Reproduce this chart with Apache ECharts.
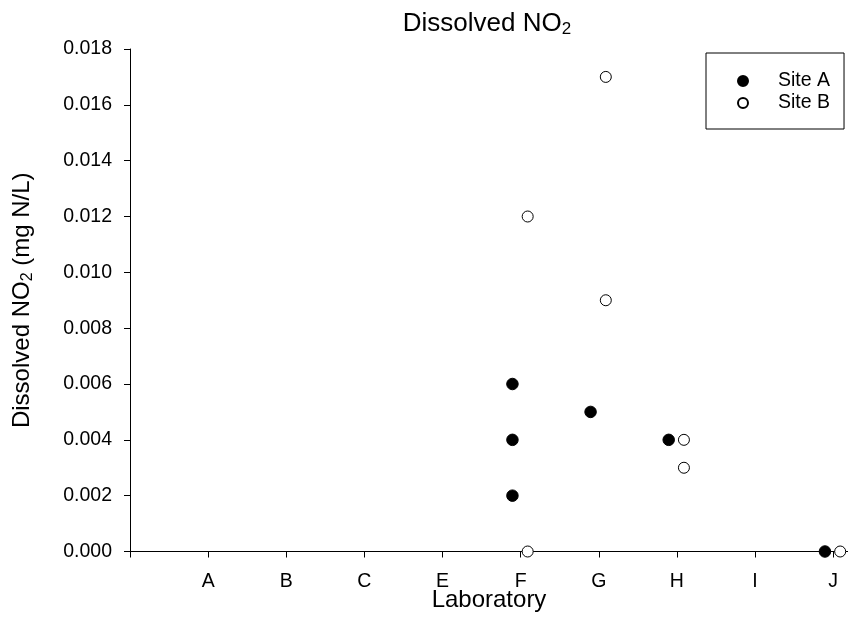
<!DOCTYPE html>
<html>
<head>
<meta charset="utf-8">
<script src="https://cdn.jsdelivr.net/npm/echarts@6/dist/echarts.min.js"></script>
<style>html,body{margin:0;padding:0;background:#fff}#c{width:848px;height:638px}</style>
</head>
<body>
<div id="c"></div>
<script>
const categories = ['A', 'B', 'C', 'E', 'F', 'G', 'H', 'I', 'J'];
const siteALab = ['F', 'F', 'F', 'G', 'H', 'J'];
const siteAVal = [0.006, 0.004, 0.002, 0.005, 0.004, 0.000];
const siteBLab = ['F', 'F', 'G', 'G', 'H', 'H', 'J'];
const siteBVal = [0.012, 0.000, 0.017, 0.009, 0.004, 0.003, 0.000];
const yTicks = { min: 0, max: 0.018, step: 0.002 };

const FONT = '"Liberation Sans", Arial, sans-serif';
const offA = -0.105, offB = 0.09;
function pts(labs, vals, off) {
  return labs.map((l, i) => [categories.indexOf(l) + 1 + off, vals[i]]);
}

const chart = echarts.init(document.getElementById('c'), null, { renderer: 'canvas' });
chart.setOption({
  animation: false,
  backgroundColor: '#fff',
  title: {
    text: '{a|Dissolved NO}{s|2}',
    left: 482, top: 5, textAlign: 'center',
    textStyle: {
      fontWeight: 'normal',
      rich: {
        a: { fontFamily: FONT, fontSize: 26, fontWeight: 'normal', lineHeight: 28, color: '#000', verticalAlign: 'middle' },
        s: { fontFamily: FONT, fontSize: 17, fontWeight: 'normal', lineHeight: 14, color: '#000', verticalAlign: 'bottom' }
      }
    }
  },
  legend: {
    orient: 'vertical',
    left: 706, top: 53,
    padding: [17, 14, 15, 31],
    itemWidth: 10, itemHeight: 10, itemGap: 0,
    borderColor: '#000', borderWidth: 1, borderRadius: 0,
    textStyle: { fontFamily: FONT, fontSize: 19.5, color: '#000', lineHeight: 22, padding: [0, 0, 0, 25] },
    data: ['Site A', 'Site B']
  },
  grid: { left: 130, top: 49, right: 0, height: 502.5, containLabel: false },
  xAxis: {
    type: 'value', min: 0, max: 9.19, interval: 1,
    name: 'Laboratory', nameLocation: 'middle', nameGap: 37, nameMoveOverlap: false,
    nameTextStyle: { fontFamily: FONT, fontSize: 24, color: '#000' },
    axisLine: { lineStyle: { color: '#000', width: 1 } },
    axisTick: { inside: false, length: 6, lineStyle: { color: '#000' } },
    axisLabel: {
      margin: 20, fontFamily: FONT, fontSize: 19.5, color: '#000',
      showMaxLabel: false,
      formatter: v => (Number.isInteger(v) && v >= 1 && v <= categories.length) ? categories[v - 1] : ''
    },
    splitLine: { show: false }
  },
  yAxis: {
    type: 'value', min: yTicks.min, max: yTicks.max, interval: yTicks.step,
    name: '{a|Dissolved NO}{s|2}{a| (mg N/L)}', nameLocation: 'middle', nameGap: 94, nameRotate: 90,
    nameMoveOverlap: false,
    nameTextStyle: {
      rich: {
        a: { fontFamily: FONT, fontSize: 24, lineHeight: 28, color: '#000', verticalAlign: 'middle' },
        s: { fontFamily: FONT, fontSize: 16, lineHeight: 14, color: '#000', verticalAlign: 'bottom' }
      }
    },
    axisLine: { show: true, lineStyle: { color: '#000', width: 1 } },
    axisTick: { show: true, inside: false, length: 6, lineStyle: { color: '#000' } },
    axisLabel: { margin: 18, fontFamily: FONT, fontSize: 19.5, color: '#000', formatter: v => v.toFixed(3) },
    splitLine: { show: false }
  },
  series: [
    {
      name: 'Site A', type: 'scatter', symbol: 'circle', symbolSize: 11.5,
      itemStyle: { color: '#000', borderColor: '#000', borderWidth: 1, opacity: 1 },
      data: pts(siteALab, siteAVal, offA), z: 5
    },
    {
      name: 'Site B', type: 'scatter', symbol: 'circle', symbolSize: 11,
      itemStyle: { color: '#fff', borderColor: '#000', borderWidth: 1, opacity: 1 },
      data: pts(siteBLab, siteBVal, offB), z: 5
    }
  ]
});
</script>
</body>
</html>
